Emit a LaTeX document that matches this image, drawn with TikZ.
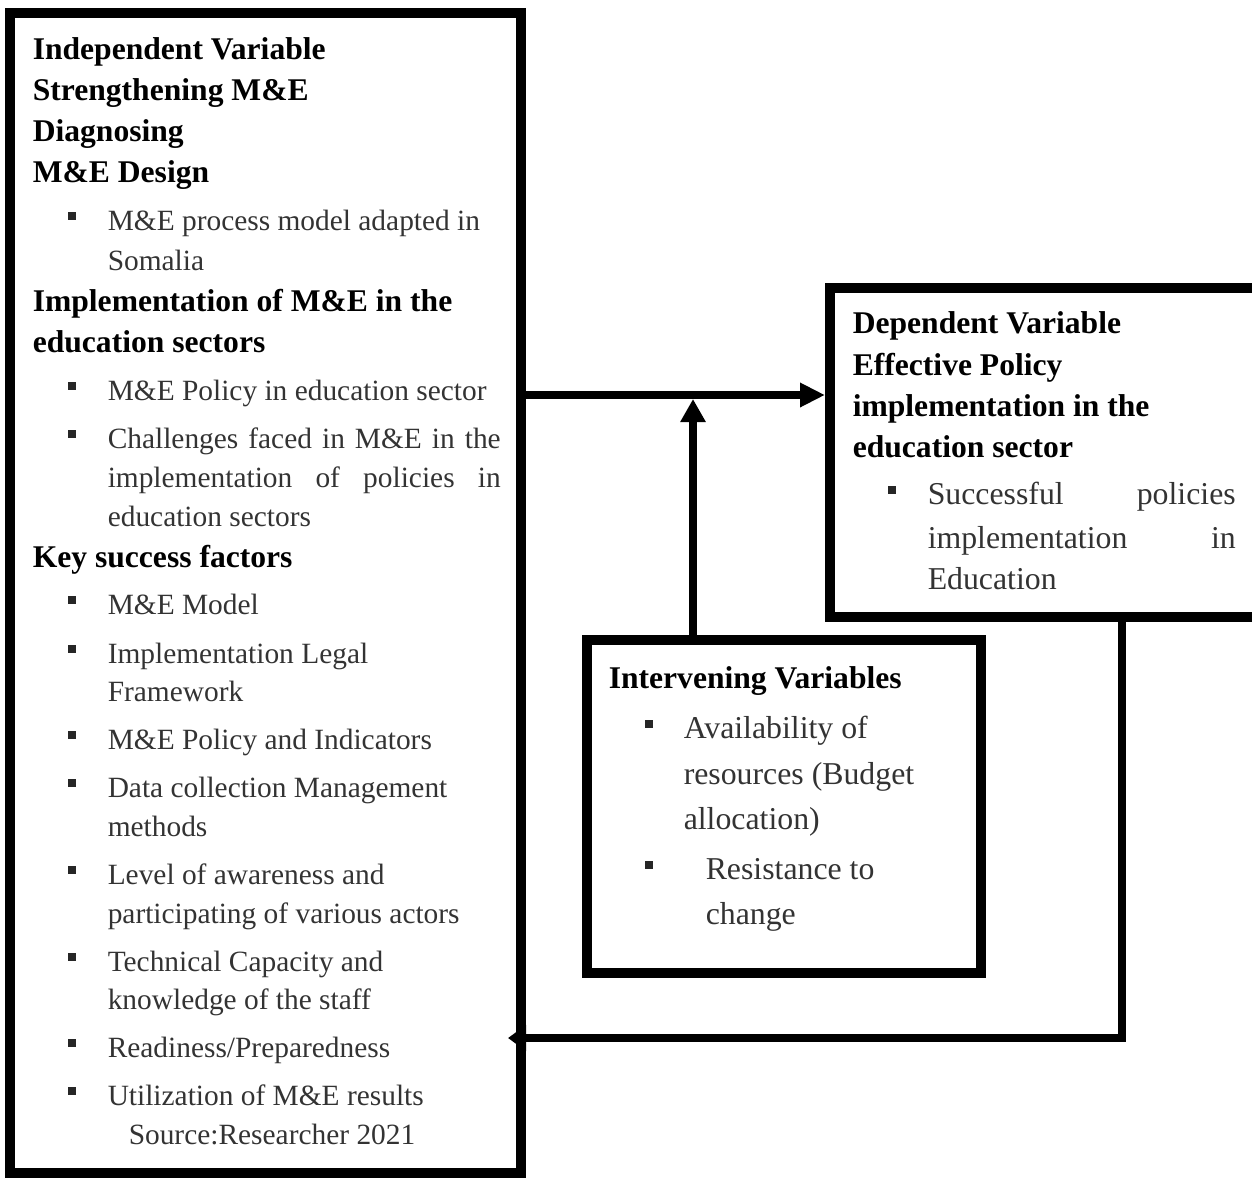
\documentclass[tikz,border=0pt]{standalone}
\usepackage{fontspec}
\setmainfont{Liberation Serif}
\usetikzlibrary{arrows.meta,fit}
\tikzset{every picture/.style={line width=0.75pt}}
\tikzset{
  box/.style={draw, line width=5pt, inner sep=0pt},
  conn/.style={line width=4pt, -{Triangle[length=12.5pt,width=11.5pt]}},
  hd/.style={anchor=base west, inner sep=0pt, font=\bfseries\fontsize{15.8}{19}\selectfont},
  tx/.style={anchor=base west, inner sep=0pt, text=black!80, font=\fontsize{14.7}{18}\selectfont},
  txb/.style={anchor=base west, inner sep=0pt, text=black!80, font=\fontsize{15.9}{19}\selectfont}
}
% bullet square, top left corner
\newcommand{\sqbul}[2]{\fill[black!85] (#1,#2) rectangle ++(8,8);}

\begin{document}
\begin{tikzpicture}[x=0.5pt,y=0.5pt,yscale=-1,xscale=1]
\useasboundingbox (0,0) rectangle (1252,1178);

%Shape: Rectangle [id:indep]
\node (indep) [box, fit={(10,13) (521,1173)}] {};
%Shape: Rectangle [id:dep]
\node (dep) [box, fit={(830,288) (1258,617)}] {};
%Shape: Rectangle [id:interv]
\node (interv) [box, fit={(587,640) (981,973)}] {};

% Text Node
\node (L1) [hd] at (32,59) {Independent Variable};
\node (L2) [hd] at (32,100) {Strengthening M\&E};
\node (L3) [hd] at (32,141) {Diagnosing};
\node (L4) [hd] at (32,182) {M\&E Design};
\node (L5) [tx] at (107,230) {M\&E process model adapted in};
\node (L6) [tx] at (107,270) {Somalia};
\node (L7) [hd] at (32,311) {Implementation of M\&E in the};
\node (L8) [hd] at (32,352) {education sectors};
\node (L9) [tx] at (107,400) {M\&E Policy in education sector};
\node (L10) [tx] at (107,448) {\makebox[196.5pt][s]{Challenges faced in M\&E in the}};
\node (L11) [tx] at (107,487) {\makebox[196.5pt][s]{implementation of  policies in}};
\node (L12) [tx] at (107,526) {education sectors};
\node (L13) [hd] at (32,567) {Key success factors};
\node (L14) [tx] at (107,614) {M\&E Model};
\node (L15) [tx] at (107,663) {Implementation Legal};
\node (L16) [tx] at (107,701) {Framework};
\node (L17) [tx] at (107,749) {M\&E Policy and Indicators};
\node (L18) [tx] at (107,797) {Data collection Management};
\node (L19) [tx] at (107,836) {methods};
\node (L20) [tx] at (107,884) {Level of awareness and};
\node (L21) [tx] at (107,923) {participating of various actors};
\node (L22) [tx] at (107,971) {Technical Capacity and};
\node (L23) [tx] at (107,1009) {knowledge of the staff};
\node (L24) [tx] at (107,1057) {Readiness/Preparedness};
\node (L25) [tx] at (107,1105) {Utilization of M\&E results};
\node (L26) [tx] at (128,1144) {Source:Researcher 2021};
\foreach \y in {230,400,448,614,663,749,797,884,971,1057,1105} {\sqbul{68}{\y-18}}

% Text Node
\node (D1) [hd] at (852,333) {Dependent Variable};
\node (D2) [hd] at (852,375) {Effective Policy};
\node (D3) [hd] at (852,416) {implementation in the};
\node (D4) [hd] at (852,457) {education sector};
\node (D5) [txb] at (927,504) {\makebox[154pt][s]{Successful policies}};
\node (D6) [txb] at (927,548) {\makebox[154pt][s]{implementation in}};
\node (D7) [txb] at (927,589) {Education};
\sqbul{888}{486}

% Text Node
\node (I1) [hd] at (608,688) {Intervening Variables};
\node (I2) [txb] at (683,738) {Availability of};
\node (I3) [txb] at (683,784) {resources (Budget};
\node (I4) [txb] at (683,829) {allocation)};
\node (I5) [txb] at (705,879) {Resistance to};
\node (I6) [txb] at (705,924) {change};
\sqbul{645}{720}
\sqbul{645}{861}

%Straight Lines [id:toDep]
\coordinate (c1) at (521,395);
\draw [conn] (indep.east |- c1) -- (dep.west |- c1);
%Straight Lines [id:toLine]
\coordinate (c2) at (693,399);
\draw [conn, -{Triangle[length=11.5pt,width=12pt]}] (interv.north -| c2) -- (c2);
%Straight Lines [id:back]
\coordinate (c3) at (1122,1038);
\draw [conn, -{Triangle[length=9pt,width=12.5pt]}, shorten >=-9pt] (dep.south -| c3) |- (indep.east |- c3);

\end{tikzpicture}
\end{document}
